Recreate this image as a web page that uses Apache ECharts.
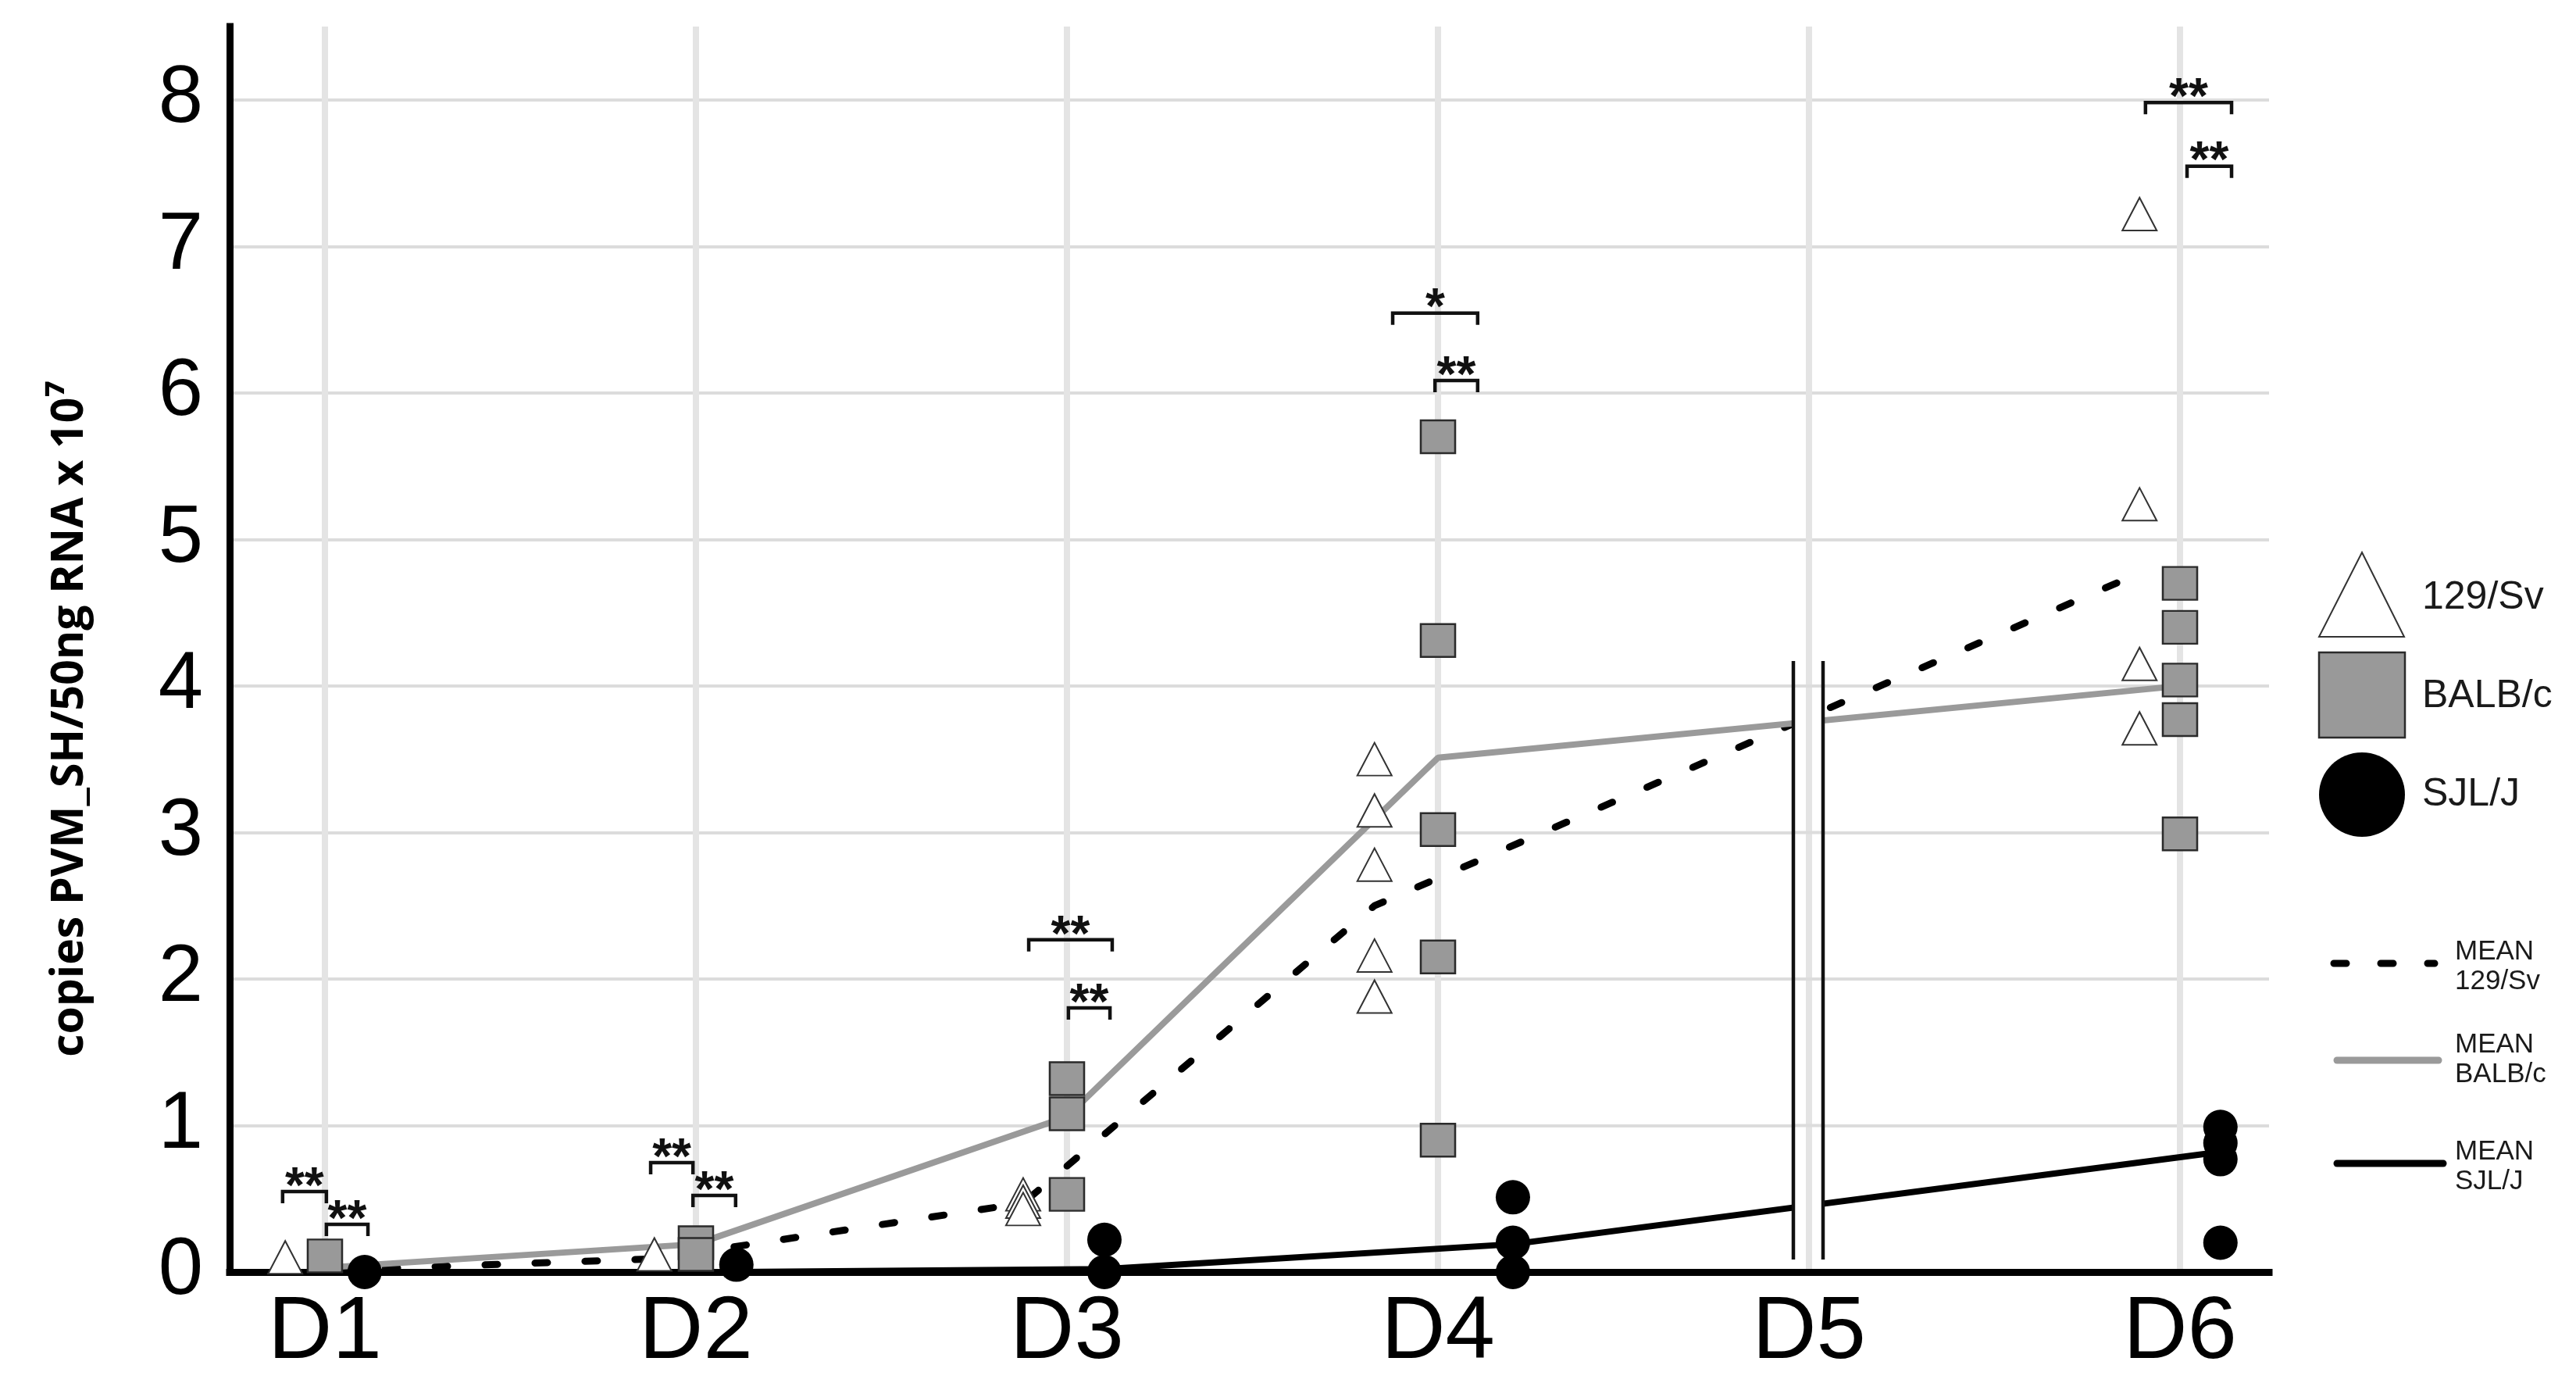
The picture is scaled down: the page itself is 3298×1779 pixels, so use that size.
<!DOCTYPE html>
<html>
<head>
<meta charset="utf-8">
<title>PVM_SH copies</title>
<script src="https://cdn.jsdelivr.net/npm/echarts@6.0.0/dist/echarts.min.js"></script>
<style>
    html, body {margin: 0; padding: 0; background: #fff;}
    #chart {width: 3298px; height: 1779px;}
</style>
</head>
<body>
<div id="chart"></div>
<script>
// days on the x axis (D5 was not sampled)
var days = ['D1', 'D2', 'D3', 'D4', 'D5', 'D6'];
var dayValues = [1, 2, 3, 4, 5, 6];
var yTicks = [0, 1, 2, 3, 4, 5, 6, 7, 8];

// single animals, one list per day
var sv129 = [[0.1], [0.12], [0.53, 0.48, 0.43], [3.5, 3.15, 2.78, 2.16, 1.88], [], [7.22, 5.24, 4.15, 3.71]];
var balbc = [[0.11], [0.2, 0.12], [1.32, 1.08, 0.53], [5.7, 4.31, 3.02, 2.15, 0.9], [], [4.7, 4.4, 4.04, 3.77, 2.99]];
var sjlj = [[0], [0.05], [0.22, 0], [0.51, 0.2, 0], [], [0.99, 0.88, 0.77, 0.2]];

// group means
var mean129 = [0, 0.09, 0.47, 2.5, null, 4.77];
var meanBalbc = [0.03, 0.19, 1.06, 3.51, null, 4.0];
var meanSjlj = [0, 0, 0.02, 0.19, null, 0.82];

// significance brackets: [from day, to day, height, label]
var sigBars = [
    [0.886, 1.004, 0.549, '**'],
    [1.004, 1.116, 0.325, '**'],
    [1.878, 1.992, 0.747, '**'],
    [1.992, 2.107, 0.523, '**'],
    [2.897, 3.122, 2.267, '**'],
    [3.004, 3.116, 1.803, '**'],
    [3.878, 4.107, 6.544, '*'],
    [3.992, 4.107, 6.085, '**'],
    [5.907, 6.139, 7.981, '**'],
    [6.019, 6.139, 7.547, '**']
];

// axis break drawn at D5: [day, from, to]
var breakAt = [[5, 0.085, 4.17]];

(function (e, t) {
    "use strict";

    // column shift of each strain around the day line
    var dodge = {
        sv: [-0.107, -0.112, -0.118, -0.171, 0, -0.109],
        balb: [0, 0, 0, 0, 0, 0],
        sjl: [0.107, 0.109, 0.101, 0.202, 0, 0.109]
    };

    var points = function (groups, shift) {
        var out = [];
        for (var i = 0; i < groups.length; i++) {
            for (var j = 0; j < groups[i].length; j++) {
                out.push([dayValues[i] + shift[i], groups[i][j]]);
            }
        }
        return out;
    };
    var meanLine = function (means, shift) {
        var out = [];
        for (var i = 0; i < means.length; i++) {
            if (means[i] === null) continue;
            out.push([dayValues[i] + shift[i], means[i]]);
        }
        return out;
    };

    var gridLines = [];
    for (var k = 1; k < yTicks.length; k++) {
        gridLines.push({yAxis: yTicks[k], lineStyle: {color: '#dcdcdc', width: 4, type: 'solid'}});
    }
    for (var d = 0; d < dayValues.length; d++) {
        gridLines.push({xAxis: dayValues[d], lineStyle: {color: '#e4e4e4', width: 8, type: 'solid'}});
    }

    var renderSig = function (params, api) {
        var row = sigBars[params.dataIndex];
        var a = api.coord([row[0], row[2]]);
        var b = api.coord([row[1], row[2]]);
        var leg = 15;
        return {
            type: 'group',
            children: [{
                type: 'polyline',
                shape: {points: [[a[0], a[1] + leg], [a[0], a[1]], [b[0], b[1]], [b[0], b[1] + leg]]},
                style: {stroke: '#111', lineWidth: 4.5, fill: null}
            }, {
                type: 'text',
                x: (a[0] + b[0]) / 2,
                y: a[1] - 4,
                style: {
                    text: row[3], fill: '#111', fontSize: 64, fontWeight: 'bold',
                    fontFamily: 'Liberation Sans', align: 'center', verticalAlign: 'middle'
                }
            }]
        };
    };

    var renderBreak = function (params, api) {
        var row = breakAt[params.dataIndex];
        var top = api.coord([row[0], row[2]]);
        var bot = api.coord([row[0], row[1]]);
        var cx = top[0], l = cx - 20, r = cx + 18;
        var kids = [{
            type: 'rect',
            shape: {x: l, y: top[1], width: r - l, height: bot[1] - top[1]},
            style: {fill: '#fff'}
        }, {
            type: 'line',
            shape: {x1: cx, y1: top[1], x2: cx, y2: bot[1]},
            style: {stroke: '#e4e4e4', lineWidth: 8}
        }];
        for (var i = 1; i < yTicks.length; i++) {
            if (yTicks[i] < row[1] || yTicks[i] > row[2]) continue;
            var y = api.coord([row[0], yTicks[i]])[1];
            kids.push({type: 'line', shape: {x1: l, y1: y, x2: r, y2: y}, style: {stroke: '#dcdcdc', lineWidth: 4}});
        }
        kids.push({type: 'line', shape: {x1: l, y1: top[1], x2: l, y2: bot[1]}, style: {stroke: '#111', lineWidth: 4.5}});
        kids.push({type: 'line', shape: {x1: r, y1: top[1], x2: r, y2: bot[1]}, style: {stroke: '#111', lineWidth: 4.5}});
        return {type: 'group', children: kids};
    };

    var legendText = function (x, y, text, size, lh) {
        return {
            type: 'text', x: x, y: y, z: 10,
            style: {
                text: text, fill: '#1a1a1a', fontSize: size, fontFamily: 'Liberation Sans',
                lineHeight: lh, align: 'left', verticalAlign: 'middle'
            }
        };
    };

    var myChart = echarts.init(document.getElementById('chart'));
    var option = {
        animation: false,
        backgroundColor: '#fff',
        grid: {left: 294, right: 393, top: 34, bottom: 151, containLabel: false},
        xAxis: {
            type: 'value',
            min: 0.7432,
            max: 6.24,
            z: 2,
            axisLine: {lineStyle: {color: '#000', width: 9, cap: 'square'}},
            axisTick: {show: false},
            splitLine: {show: false},
            axisLabel: {
                customValues: dayValues,
                margin: 22,
                color: '#000',
                fontSize: 114,
                fontFamily: '"Liberation Sans Narrow", "Liberation Sans", Arial',
                formatter: function (v) {
                    return days[dayValues.indexOf(Math.round(v))];
                }
            }
        },
        yAxis: {
            type: 'value',
            min: 0,
            max: 8.5,
            interval: 1,
            z: 2,
            axisLine: {lineStyle: {color: '#000', width: 9, cap: 'square'}},
            axisTick: {show: false},
            splitLine: {show: false},
            axisLabel: {
                margin: 34,
                color: '#000',
                fontSize: 103,
                fontFamily: 'Liberation Sans',
                showMaxLabel: false,
                formatter: function (v) {
                    return v % 1 === 0 ? String(v) : '';
                }
            }
        },
        series: [{
            name: 'MEAN 129/Sv', type: 'line', z: 3, symbol: 'none', silent: true,
            data: meanLine(mean129, dodge.sv),
            lineStyle: {color: '#000', width: 9, type: [16, 48], cap: 'round'}
        }, {
            name: 'MEAN BALB/c', type: 'line', z: 3, symbol: 'none', silent: true,
            data: meanLine(meanBalbc, dodge.balb),
            lineStyle: {color: '#9a9a9a', width: 8}
        }, {
            name: 'MEAN SJL/J', type: 'line', z: 3, symbol: 'none', silent: true,
            data: meanLine(meanSjlj, dodge.sjl),
            lineStyle: {color: '#000', width: 8}
        }, {
            name: '129/Sv', type: 'scatter', z: 4, silent: true,
            symbol: 'triangle', symbolSize: [44, 42],
            itemStyle: {color: '#fff', borderColor: '#333', borderWidth: 2, opacity: 1},
            data: points(sv129, dodge.sv)
        }, {
            name: 'BALB/c', type: 'scatter', z: 4, silent: true,
            symbol: 'rect', symbolSize: [44, 42],
            itemStyle: {color: '#999', borderColor: '#2b2b2b', borderWidth: 2.5, opacity: 1},
            data: points(balbc, dodge.balb)
        }, {
            name: 'SJL/J', type: 'scatter', z: 4, silent: true,
            symbol: 'circle', symbolSize: 44,
            itemStyle: {color: '#000', opacity: 1},
            data: points(sjlj, dodge.sjl),
            markLine: {
                z: 1, silent: true, symbol: ['none', 'none'],
                label: {show: false},
                emphasis: {disabled: true},
                data: gridLines
            }
        }, {
            type: 'custom', z: 5, silent: true, clip: false,
            renderItem: renderBreak,
            encode: {x: 0, y: [1, 2]},
            data: breakAt
        }, {
            type: 'custom', z: 6, silent: true, clip: false,
            renderItem: renderSig,
            encode: {x: [0, 1], y: 2},
            data: sigBars.map(function (r) { return [r[0], r[1], r[2]]; })
        }],
        graphic: [{
            type: 'text', x: 90, y: 920, rotation: Math.PI / 2, z: 10,
            style: {
                text: 'copies PVM_SH/50ng RNA x 10\u2077', fill: '#000',
                fontSize: 57, fontWeight: 'bold', fontFamily: '"Open Sans", "Noto Sans"',
                align: 'center', verticalAlign: 'middle'
            }
        },
        // legend: strain symbols
        {
            type: 'polygon', z: 10,
            shape: {points: [[3024, 707], [3078, 815], [2969, 815]]},
            style: {fill: '#fff', stroke: '#333', lineWidth: 2}
        }, {
            type: 'rect', z: 10,
            shape: {x: 2969, y: 835, width: 110, height: 109},
            style: {fill: '#999', stroke: '#2b2b2b', lineWidth: 2.5}
        }, {
            type: 'ellipse', z: 10,
            shape: {cx: 3024, cy: 1017, rx: 55, ry: 54},
            style: {fill: '#000'}
        },
            legendText(3101, 765, '129/Sv', 50, 56),
            legendText(3101, 891, 'BALB/c', 50, 56),
            legendText(3101, 1017, 'SJL/J', 50, 56),
        // legend: mean lines
        {
            type: 'line', z: 10,
            shape: {x1: 2988, y1: 1233, x2: 3117, y2: 1233},
            style: {stroke: '#000', lineWidth: 9, lineDash: [16, 44], lineCap: 'round'}
        }, {
            type: 'line', z: 10,
            shape: {x1: 2992, y1: 1357, x2: 3122, y2: 1357},
            style: {stroke: '#9a9a9a', lineWidth: 9, lineCap: 'round'}
        }, {
            type: 'line', z: 10,
            shape: {x1: 2992, y1: 1489, x2: 3128, y2: 1489},
            style: {stroke: '#000', lineWidth: 9, lineCap: 'round'}
        },
            legendText(3143, 1237, 'MEAN\n129/Sv', 35, 38),
            legendText(3143, 1356, 'MEAN\nBALB/c', 35, 38),
            legendText(3143, 1493, 'MEAN\nSJL/J', 35, 38)
        ]
    };
    myChart.setOption(option);
})(document, window);
</script>
</body>
</html>
